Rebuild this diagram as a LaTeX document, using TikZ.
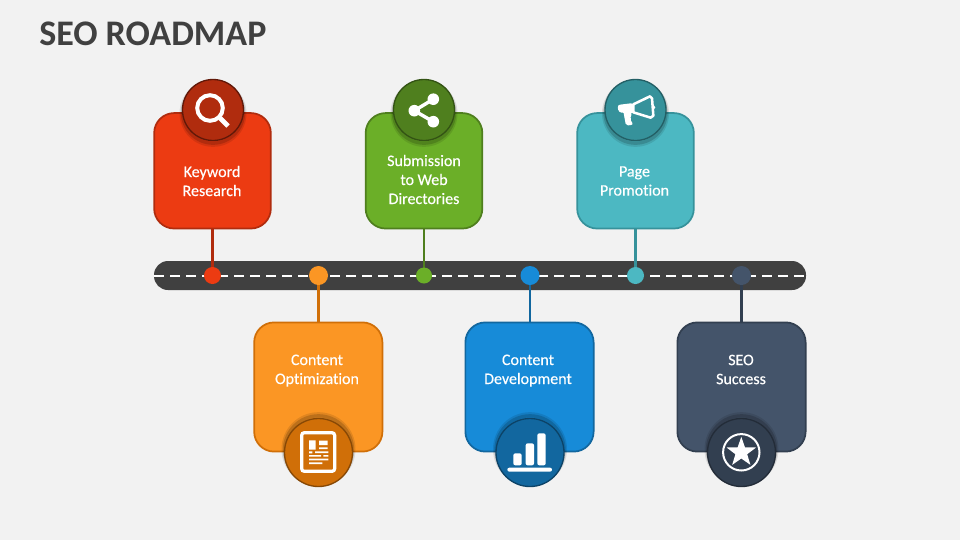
\documentclass[tikz,border=0pt]{standalone}
\usepackage{fontspec}
\setmainfont[Ligatures=NoCommon]{Carlito}
\newfontfamily\lblfont[FakeBold=0.35,Ligatures=NoCommon]{Carlito}
\pgfdeclarelayer{bglayer}
\pgfdeclarelayer{roadlayer}
\pgfdeclarelayer{connlayer}
\pgfsetlayers{bglayer,roadlayer,connlayer,main}
\definecolor{bgc}{HTML}{F2F2F2}
\definecolor{roadc}{HTML}{404040}
\definecolor{redA}{HTML}{EC3B12}\definecolor{redB}{HTML}{B02C0E}
\definecolor{orgA}{HTML}{FB9624}\definecolor{orgB}{HTML}{D06F08}
\definecolor{grnA}{HTML}{6BAF28}\definecolor{grnB}{HTML}{4F7F1E}
\definecolor{bluA}{HTML}{178BD8}\definecolor{bluB}{HTML}{12679F}
\definecolor{tealA}{HTML}{4CB8C2}\definecolor{tealB}{HTML}{36929B}
\definecolor{slaA}{HTML}{44546A}\definecolor{slaB}{HTML}{323F50}
\tikzset{
  cardbox/.style n args={2}{draw=#2,fill=#1,line width=1.3pt,rounded corners=15pt,
    rectangle,outer sep=0pt,inner sep=0pt},
  small card/.style={minimum width=87.5pt,minimum height=86.6pt},
  wide card/.style={minimum width=96.2pt,minimum height=96.9pt},
  lbl/.style={text=white,font=\lblfont\fontsize{12}{14.25}\selectfont,align=center,inner sep=0pt},
  disc/.style n args={2}{circle,fill=#1,draw=#2,line width=1pt,inner sep=0pt,outer sep=0pt},
  shadedown/.style={
    preaction={draw=black,draw opacity=.10,line width=4.5pt,transform canvas={yshift=-2.5pt}},
    preaction={draw=black,draw opacity=.16,line width=2.5pt,transform canvas={yshift=-2pt}}},
  shadeup/.style={
    preaction={draw=black,draw opacity=.10,line width=4.5pt,transform canvas={yshift=2.5pt}},
    preaction={draw=black,draw opacity=.16,line width=2.5pt,transform canvas={yshift=2pt}}},
  dotmark/.style n args={2}{circle,fill=#1,inner sep=0pt,outer sep=0pt,minimum size=#2},
  conn/.style={line width=1.6pt},
}
\begin{document}
\begin{tikzpicture}[x=.75pt,y=-.75pt]
\useasboundingbox (0,0) rectangle (960,540);
\begin{pgfonlayer}{bglayer}
\fill[bgc] (0,0) rectangle (960,540);
\end{pgfonlayer}
\node[anchor=west,inner sep=0pt,text=roadc,font=\fontsize{27}{30}\selectfont\bfseries] (title) at (39,34) {SEO ROADMAP};

% road
\begin{pgfonlayer}{roadlayer}
\node[rectangle,fill=roadc,rounded corners=10.5pt,minimum width=489pt,minimum height=21.75pt,inner sep=0pt,outer sep=0pt] (road) at (480,275.5) {};
\draw[white,line width=1.5pt,dash pattern=on 7.5pt off 4.5pt] (road.west) -- (road.east);
\end{pgfonlayer}

% dots
\node[dotmark={redA}{12.75pt}] (dotA) at (212.5,275.5) {};
\node[dotmark={orgA}{14.25pt}] (dotB) at (318.5,275.5) {};
\node[dotmark={grnA}{12pt}] (dotC) at (424,275.5) {};
\node[dotmark={bluA}{14.25pt}] (dotD) at (530,275.5) {};
\node[dotmark={tealA}{12.75pt}] (dotE) at (635.5,275.5) {};
\node[dotmark={slaA}{14.25pt}] (dotF) at (741.5,275.5) {};

% cards
\node[cardbox={redA}{redB},small card] (cardA) at (212.5,170.8) {};
\node[cardbox={orgA}{orgB},wide card] (cardB) at (318.3,387) {};
\node[cardbox={grnA}{grnB},small card] (cardC) at (424,170.8) {};
\node[cardbox={bluA}{bluB},wide card] (cardD) at (529.5,387) {};
\node[cardbox={tealA}{tealB},small card] (cardE) at (635.5,170.8) {};
\node[cardbox={slaA}{slaB},wide card] (cardF) at (741.5,387) {};

% connectors
\begin{pgfonlayer}{connlayer}
\draw[conn,redB] (dotA.center |- cardA.south) -- (dotA.center);
\draw[conn,orgB] (dotB.center |- cardB.north) -- (dotB.center);
\draw[conn,grnB] (dotC.center |- cardC.south) -- (dotC.center);
\draw[conn,bluB] (dotD.center |- cardD.north) -- (dotD.center);
\draw[conn,tealB] (dotE.center |- cardE.south) -- (dotE.center);
\draw[conn,slaB] (dotF.center |- cardF.north) -- (dotF.center);
\end{pgfonlayer}

% labels
\node[lbl] (textA) at (212,181) {Keyword\\Research};
\node[lbl] (textB) at (317,370.6) {Content\\Optimization};
\node[lbl] (textC) at (424,179.5) {Submission\\to Web\\Directories};
\node[lbl] (textD) at (528,370.6) {Content\\Development};
\node[lbl] (textE) at (634.5,181) {Page\\Promotion};
\node[lbl] (textF) at (741,369.5) {SEO\\Success};

% discs
\node[disc={redB}{black!45!redB},shadedown,minimum size=45.75pt] (discA) at (213,110) {};
\node[disc={grnB}{black!35!grnB},shadedown,minimum size=45.75pt] (discC) at (424,110) {};
\node[disc={tealB}{black!35!tealB},shadedown,minimum size=45.75pt] (discE) at (635.5,110) {};
\node[disc={orgB}{black!35!orgB},shadeup,minimum size=51pt] (discB) at (318.5,452.5) {};
\node[disc={bluB}{black!35!bluB},shadeup,minimum size=51pt] (discD) at (530,452.5) {};
\node[disc={slaB}{black!30!slaB},shadeup,minimum size=51pt] (discF) at (741.5,452.5) {};

% magnifier
\draw[white,line width=3pt] (210,108) circle (12.8);
\draw[white,line width=3.6pt] (220,118) -- (228,126);
% share
\draw[white,line width=2.6pt] (433.3,99.2) -- (414.3,110.7) -- (433.3,121.7);
\fill[white] (433.3,99.2) circle (5.8) (414.3,110.7) circle (5.8) (433.3,121.7) circle (5.8);
% megaphone (coordinates of a 3x crop)
\begin{scope}[shift={(600,75)},x=.25pt,y=-.25pt]
\draw[white,line width=1.9pt,line join=round] (100,88) -- (150,64) -- (156,70) -- (160,122) -- (152,128) -- (100,112) -- cycle;
\fill[white,rounded corners=2pt] (52,90) -- (100,84) -- (100,116) -- (56,112) -- cycle;
\fill[white,rounded corners=1.5pt] (70,110) -- (78,152) -- (100,149) -- (90,132) -- (96,114) -- cycle;
\fill[white,rounded corners=1pt] (160,90) -- (166,94) -- (166,100) -- (160,104) -- cycle;
\end{scope}
% newspaper (coordinates of a 3x crop)
\begin{scope}[shift={(285,418)},x=.25pt,y=-.25pt]
\draw[white,line width=2.4pt,rounded corners=2pt] (50,44) rectangle (149,160);
\fill[white] (72,67) rectangle (92,95) (102,68) rectangle (128,81) (102,88) rectangle (128,93);
\fill[white] (72,100) rectangle (82,106) (90,100) rectangle (130,105);
\fill[white] (72,111) rectangle (108,116) (115,111) rectangle (130,116);
\fill[white] (72,122) rectangle (130,127) (72,133) rectangle (112,138);
\end{scope}
% bars (coordinates of a 3x crop)
\begin{scope}[shift={(240,400)},x=.25pt,y=-.25pt]
\fill[white,rounded corners=1.5pt] (820,160) rectangle (845,196);
\fill[white,rounded corners=1.5pt] (857,130) rectangle (882,196);
\fill[white,rounded corners=1.5pt] (892,100) rectangle (917,196);
\fill[white,rounded corners=1.5pt] (802,203) rectangle (936,215);
\end{scope}
% star
\draw[white,line width=1.5pt] (741.3,452.3) circle (18.2);
\fill[white] (741.3,436.8) -- ++(3.65,10.5) -- ++(11.1,.2) -- ++(-8.85,6.7) -- ++(3.2,10.65) -- ++(-9.1,-6.35)
  -- ++(-9.1,6.35) -- ++(3.2,-10.65) -- ++(-8.85,-6.7) -- ++(11.1,-.2) -- cycle;
\end{tikzpicture}
\end{document}
